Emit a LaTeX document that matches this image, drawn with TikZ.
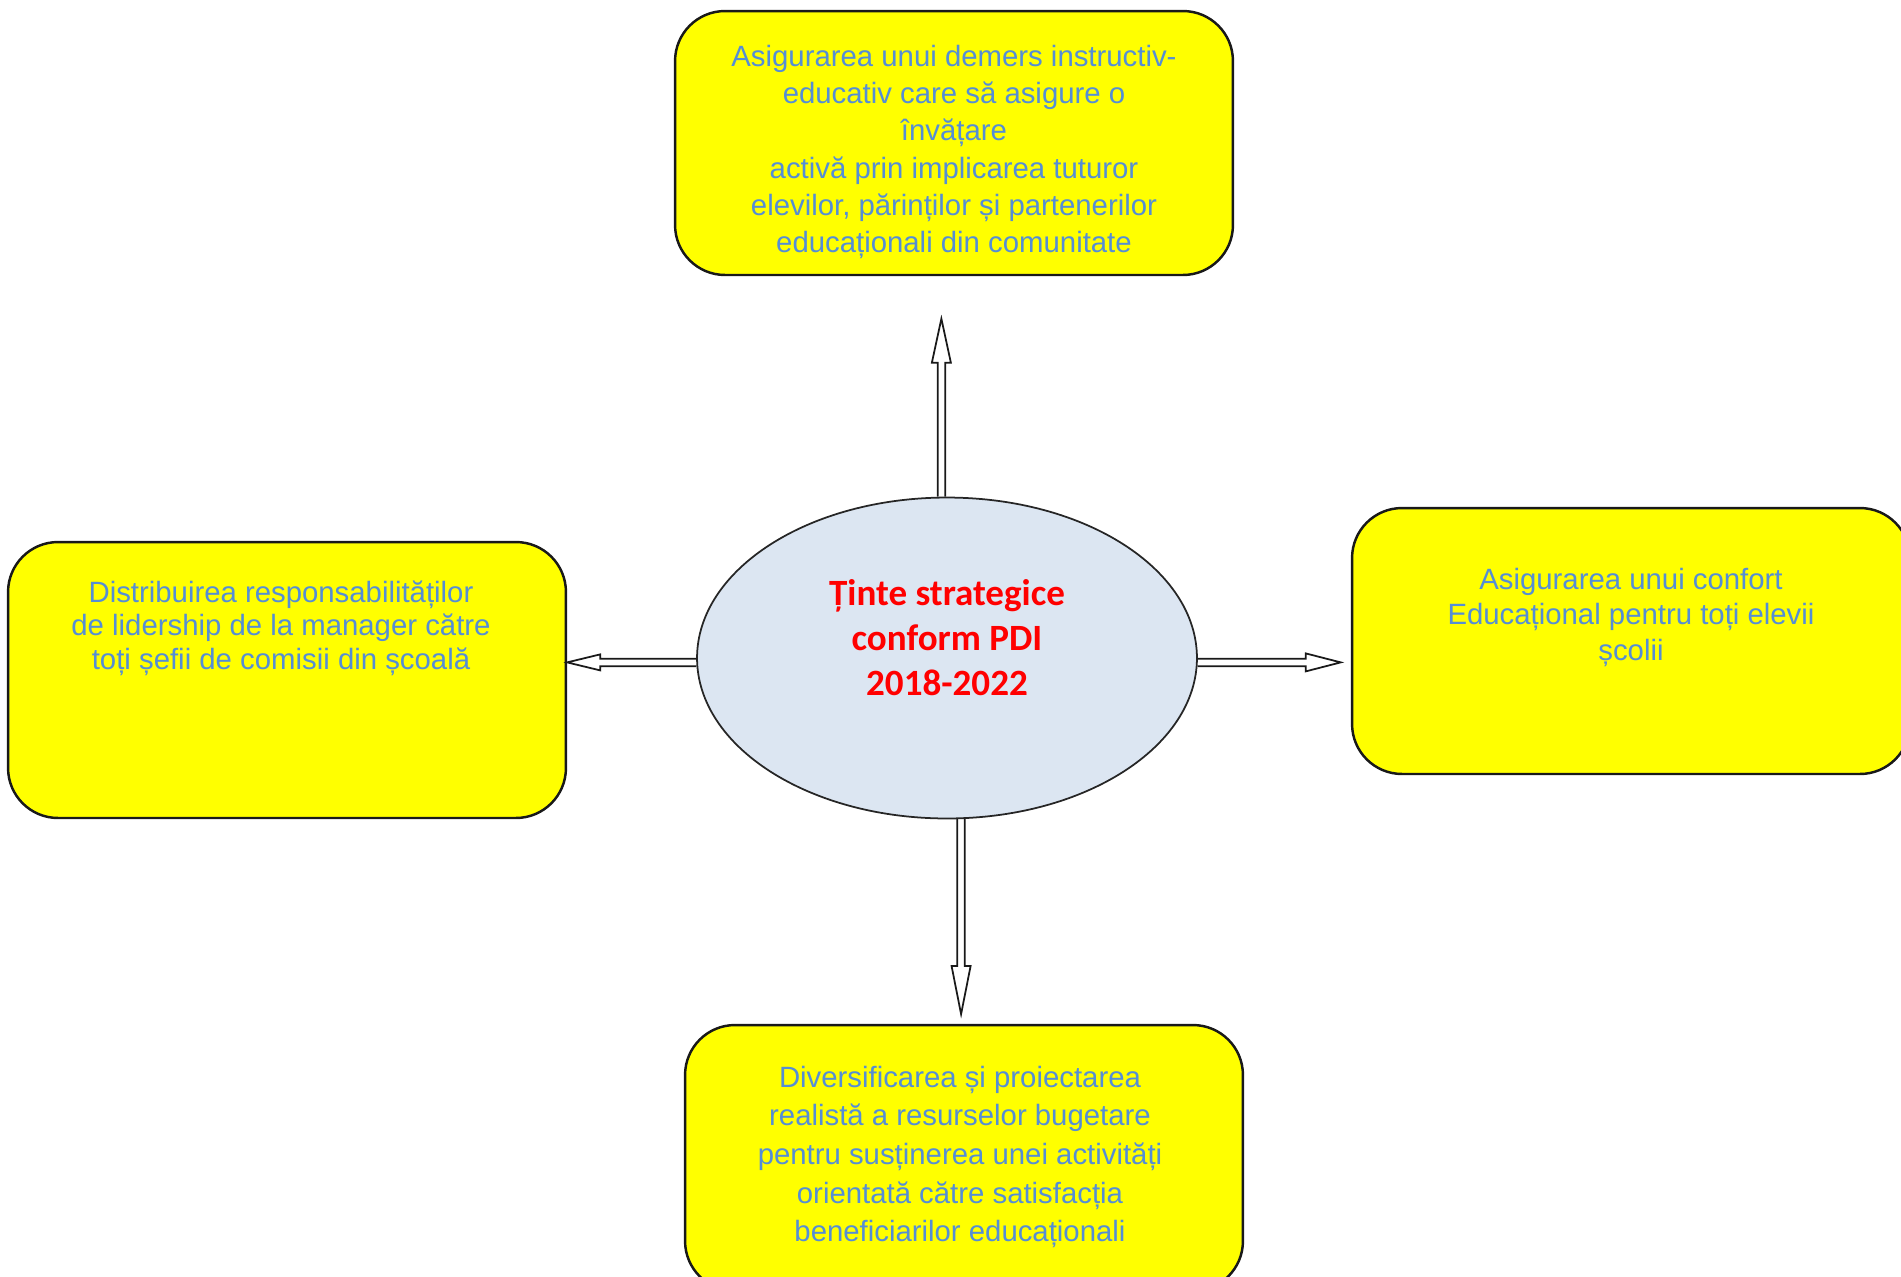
\documentclass[tikz,border=0pt]{standalone}
\usepackage{fontspec}
\setmainfont{Liberation Sans}
\newfontfamily\titlefont{Carlito}
\usetikzlibrary{positioning}
\usetikzlibrary{shapes,calc}
\definecolor{goalyellow}{RGB}{255,255,0}
\definecolor{goalblue}{RGB}{85,142,213}
\definecolor{ellipseblue}{RGB}{220,230,242}
\tikzstyle{goalbox} = [rectangle, draw=black!90, line width=1.4pt, fill=goalyellow,
    rounded corners=1cm, minimum width=11.16cm]
\tikzstyle{goalellipse} = [ellipse, draw=black!85, line width=1pt, fill=ellipseblue,
    minimum width=10cm, minimum height=6.42cm, inner sep=0pt]
\tikzstyle{titletext} = [text=red, align=center, inner sep=0pt,
    font=\titlefont\bfseries\fontsize{21.1}{25.6}\selectfont]
\tikzstyle{hollow} = [draw=black!90, line width=1pt, line join=miter]
\tikzset{goaltext/.style={text=goalblue, align=center, inner sep=0pt,
    font=\fontsize{16.7}{#1}\selectfont}}
% hollow block arrow: start, tip, head length, head half width
\newcommand{\hollowarrow}[4]{%
  \coordinate (hb) at ($(#2)!#3!(#1)$);
  \draw[hollow] ($(#1)!0.075cm!90:(#2)$) -- ($(hb)!0.075cm!90:(#2)$)
    -- ($(hb)!#4!90:(#2)$) -- (#2) -- ($(hb)!#4!-90:(#2)$)
    -- ($(hb)!0.075cm!-90:(#2)$) -- ($(#1)!0.075cm!-90:(#2)$);
}

\begin{document}
\begin{tikzpicture}[x=0.02cm, y=-0.02cm]
    \useasboundingbox (0,0) rectangle (1901,1276);
    % Place nodes
    \node [goalellipse] (pdi) at (947,658) {};
    \node [titletext, above of=pdi, node distance=0.4cm] (pditext)
        {Ținte strategice\\conform PDI\\2018-2022};
    \node [goalbox, minimum height=5.28cm] (topbox) at (954,143) {};
    \node [goaltext=21.2pt, below of=topbox, node distance=0.18cm] (toptext)
        {Asigurarea unui demers instructiv-\\educativ care să asigure o\\învățare\\activă prin implicarea tuturor\\elevilor, părinților și partenerilor\\educaționali din comunitate};
    \node [goalbox, minimum height=5.52cm] (leftbox) at (287,680) {};
    \node [goaltext=19pt, above of=leftbox, node distance=1.04cm, xshift=-0.12cm] (lefttext)
        {Distribuirea responsabilităților\\de lidership de la manager către\\toți șefii de comisii din școală};
    \node [goalbox, minimum height=5.32cm] (rightbox) at (1631,641) {};
    \node [goaltext=20.2pt, above of=rightbox, node distance=0.48cm] (righttext)
        {Asigurarea unui confort\\Educațional pentru toți elevii\\școlii};
    \node [goalbox, minimum height=5.32cm] (bottombox) at (964,1158) {};
    \node [goaltext=22pt, above of=bottombox, node distance=0.02cm, xshift=-0.08cm] (bottomtext)
        {Diversificarea și proiectarea\\realistă a resurselor bugetare\\pentru susținerea unei activități\\orientată către satisfacția\\beneficiarilor educaționali};

    % Arrow ends
    \coordinate (uptip) at ($(pdi.92)+(0,-178)$);
    \coordinate (downtip) at ($(pdi.-85)+(0,195)$);
    \coordinate (lefttip) at (pdi.181 -| leftbox.east);
    \coordinate (righttip) at ($(pdi.-1)+(143,0)$);

    % Draw edges
    \hollowarrow{pdi.92}{uptip}{0.88cm}{0.19cm}
    \hollowarrow{pdi.-85}{downtip}{0.96cm}{0.19cm}
    \hollowarrow{pdi.181}{lefttip}{0.66cm}{0.16cm}
    \hollowarrow{pdi.-1}{righttip}{0.7cm}{0.18cm}
\end{tikzpicture}
\end{document}
